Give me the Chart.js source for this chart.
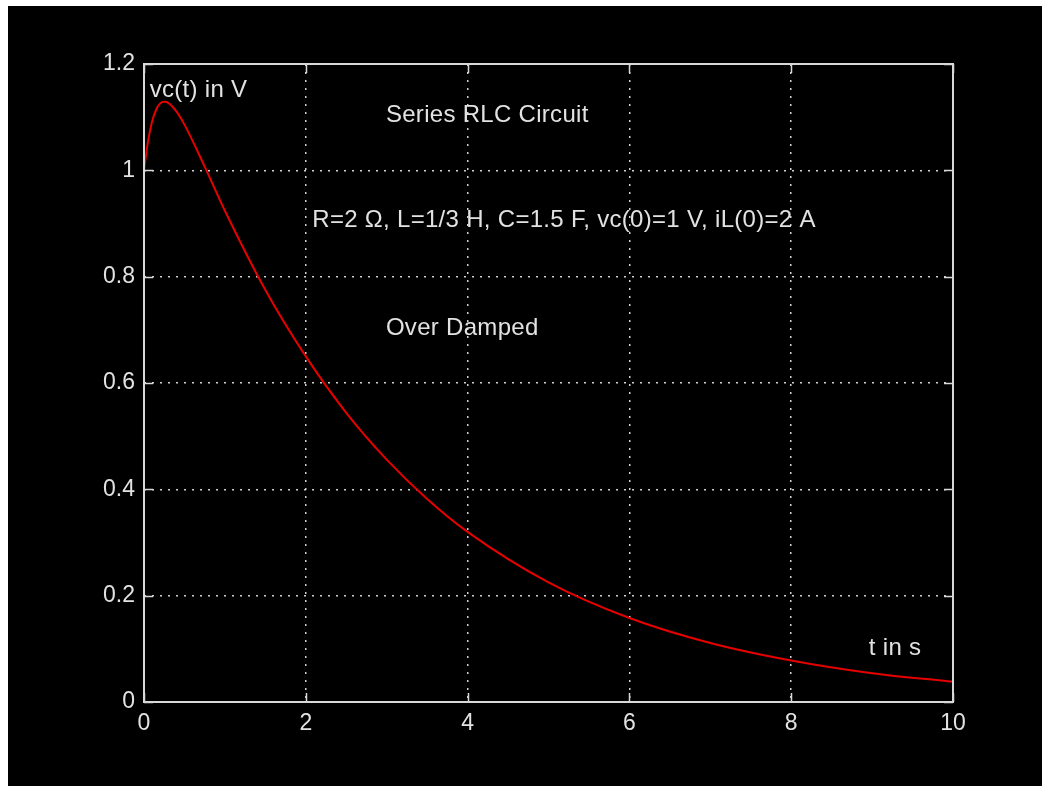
<!DOCTYPE html>
<html>
<head>
<meta charset="utf-8">
<title>Series RLC Circuit</title>
<script src="https://cdn.jsdelivr.net/npm/chart.js@4/dist/chart.umd.min.js"></script>
<style>
  html, body { margin: 0; padding: 0; background: #fff; }
  #wrap { width: 1042px; height: 786px; position: relative; }
</style>
</head>
<body>
<div id="wrap"><canvas id="rlc" width="1042" height="786"></canvas></div>
<script>
// capacitor voltage vc(t), sampled along the curve
const tValues = [0, 0.05, 0.1, 0.15, 0.2, 0.25, 0.3, 0.4, 0.5, 0.75, 1, 1.5, 2, 2.5, 3, 3.5, 4, 5, 6, 7, 8, 9, 10];
const vcValues = [1.0, 1.055, 1.092, 1.114, 1.126, 1.129, 1.127, 1.111, 1.086, 1.007, 0.924, 0.775, 0.650, 0.544, 0.456, 0.382, 0.320, 0.225, 0.158, 0.111, 0.078, 0.054, 0.038];

const xTicks = [0, 2, 4, 6, 8, 10];
const yTicks = [0, 0.2, 0.4, 0.6, 0.8, 1, 1.2];

// text notes placed in data units
const notes = [
    { text: 'vc(t) in V', x: 0.07, y: 1.151 },
    { text: 'Series RLC Circuit', x: 2.99, y: 1.104 },
    { text: 'R=2 \u03A9, L=1/3 H, C=1.5 F, vc(0)=1 V, iL(0)=2 A', x: 2.08, y: 0.905 },
    { text: 'Over Damped', x: 2.99, y: 0.703 },
    { text: 't in s', x: 8.96, y: 0.1 }
];

const FONT = '"Liberation Sans", Arial, sans-serif';
const FG = '#e2e2e2';

// white frame with the black figure inside
const figureBackground = {
    id: 'figureBackground',
    beforeDraw(chart) {
        const ctx = chart.ctx;
        ctx.save();
        ctx.fillStyle = '#ffffff';
        ctx.fillRect(0, 0, chart.width, chart.height);
        ctx.fillStyle = '#000000';
        ctx.fillRect(8, 6, chart.width - 8, chart.height - 6);
        ctx.restore();
    }
};

// axes box with inward ticks on all four sides, plus the text notes
const axesBox = {
    id: 'axesBox',
    afterDraw(chart) {
        const ctx = chart.ctx;
        const a = chart.chartArea;
        const xs = chart.scales.x, ys = chart.scales.y;
        const len = 9;
        ctx.save();
        ctx.strokeStyle = '#d8d8d8';
        ctx.lineWidth = 2;
        ctx.strokeRect(a.left, a.top, a.right - a.left, a.bottom - a.top);
        ctx.beginPath();
        xTicks.forEach(v => {
            const px = Math.round(xs.getPixelForValue(v)) + 0.5;
            ctx.moveTo(px, a.bottom); ctx.lineTo(px, a.bottom - len);
            ctx.moveTo(px, a.top); ctx.lineTo(px, a.top + len);
        });
        yTicks.forEach(v => {
            const py = Math.round(ys.getPixelForValue(v)) + 0.5;
            ctx.moveTo(a.left, py); ctx.lineTo(a.left + len, py);
            ctx.moveTo(a.right, py); ctx.lineTo(a.right - len, py);
        });
        ctx.lineWidth = 1.5;
        ctx.stroke();

        ctx.fillStyle = FG;
        ctx.font = '24px ' + FONT;
        ctx.letterSpacing = '0.3px';
        ctx.textAlign = 'left';
        ctx.textBaseline = 'middle';
        notes.forEach(n => {
            ctx.fillText(n.text, xs.getPixelForValue(n.x), ys.getPixelForValue(n.y));
        });
        ctx.restore();
    }
};

new Chart(document.getElementById('rlc'), {
    type: 'line',
    data: {
        datasets: [{
            label: 'vc(t)',
            data: tValues.map((t, i) => ({ x: t, y: vcValues[i] })),
            borderColor: '#e60000',
            borderWidth: 2,
            pointRadius: 0,
            cubicInterpolationMode: 'monotone',
            fill: false
        }]
    },
    options: {
        responsive: false,
        animation: false,
        devicePixelRatio: 1,
        layout: { padding: { top: 64, right: 89, left: 0, bottom: 0 } },
        plugins: {
            legend: { display: false },
            tooltip: { enabled: false }
        },
        scales: {
            x: {
                type: 'linear',
                min: 0,
                max: 10,
                afterFit(scale) { scale.height = 84; },
                afterBuildTicks(scale) { scale.ticks = xTicks.map(v => ({ value: v })); },
                border: { display: false, dash: [2, 6] },
                grid: {
                    color: '#d0d0d0',
                    lineWidth: 1.5,
                    drawTicks: false,
                    tickLength: 0
                },
                ticks: {
                    color: FG,
                    padding: 8,
                    maxRotation: 0,
                    font: { family: FONT, size: 23 },
                    callback: v => String(v)
                }
            },
            y: {
                min: 0,
                max: 1.2,
                afterFit(scale) { scale.width = 144; },
                afterBuildTicks(scale) { scale.ticks = yTicks.map(v => ({ value: v })); },
                border: { display: false, dash: [2, 6] },
                grid: {
                    color: '#d0d0d0',
                    lineWidth: 1.5,
                    drawTicks: false,
                    tickLength: 0
                },
                ticks: {
                    color: FG,
                    padding: 9,
                    font: { family: FONT, size: 23 },
                    callback: v => String(Math.round(v * 10) / 10)
                }
            }
        }
    },
    plugins: [figureBackground, axesBox]
});
</script>
</body>
</html>
